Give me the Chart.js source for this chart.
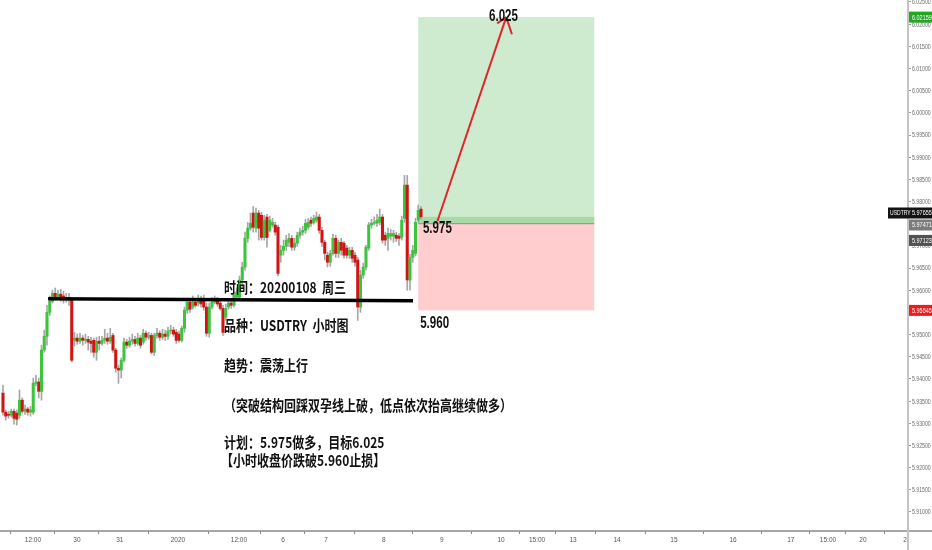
<!DOCTYPE html>
<html>
<head>
<meta charset="utf-8">
<script src="https://cdn.jsdelivr.net/npm/chart.js@4.4.1/dist/chart.umd.min.js"></script>
<style>
html,body{margin:0;padding:0;background:#fff}
canvas{display:block}
</style>
</head>
<body>
<canvas id="c" width="932" height="550"></canvas>
<script>
// USDTRY hourly candles (open / high / low / close)
const opens = [
5.9368,5.9325,5.9320,5.9318,5.9327,5.9323,5.9318,5.9352,5.9327,5.9332,
5.9325,5.9325,5.9390,5.9393,5.9372,5.9465,5.9496,5.9550,5.9575,5.9593,
5.9584,5.9591,5.9587,5.9578,5.9584,5.9578,5.9487,5.9492,5.9485,5.9492,
5.9487,5.9489,5.9485,5.9487,5.9460,5.9485,5.9480,5.9487,5.9492,5.9485,
5.9498,5.9465,5.9424,5.9420,5.9442,5.9483,5.9476,5.9485,5.9489,5.9480,
5.9492,5.9483,5.9503,5.9494,5.9498,5.9460,5.9498,5.9503,5.9494,5.9501,
5.9496,5.9508,5.9510,5.9505,5.9501,5.9487,5.9514,5.9555,5.9573,5.9562,
5.9573,5.9571,5.9578,5.9582,5.9562,5.9503,5.9562,5.9573,5.9578,5.9571,
5.9559,5.9539,5.9562,5.9571,5.9566,5.9584,5.9584,5.9623,5.9652,5.9717,
5.9740,5.9774,5.9740,5.9774,5.9769,5.9719,5.9765,5.9735,5.9747,5.9747,
5.9742,5.9679,5.9690,5.9699,5.9708,5.9717,5.9697,5.9706,5.9724,5.9731,
5.9735,5.9742,5.9758,5.9753,5.9758,5.9765,5.9735,5.9708,5.9679,5.9663,
5.9683,5.9717,5.9683,5.9708,5.9706,5.9695,5.9679,5.9690,5.9679,5.9668,
5.9562,5.9634,5.9652,5.9695,5.9747,5.9751,5.9751,5.9753,5.9765,5.9724,
5.9717,5.9722,5.9722,5.9724,5.9722,5.9719,5.9762,5.9837,5.9623,5.9674,
5.9683,5.9758,5.9783
];
const highs = [
5.9386,5.9330,5.9327,5.9332,5.9332,5.9330,5.9375,5.9357,5.9341,5.9336,
5.9338,5.9402,5.9408,5.9402,5.9476,5.9510,5.9566,5.9587,5.9600,5.9605,
5.9600,5.9602,5.9598,5.9593,5.9593,5.9582,5.9505,5.9501,5.9503,5.9498,
5.9501,5.9496,5.9494,5.9492,5.9494,5.9496,5.9496,5.9512,5.9503,5.9514,
5.9503,5.9469,5.9431,5.9447,5.9492,5.9489,5.9494,5.9501,5.9496,5.9503,
5.9498,5.9512,5.9508,5.9505,5.9503,5.9503,5.9514,5.9508,5.9512,5.9510,
5.9517,5.9521,5.9517,5.9512,5.9508,5.9519,5.9562,5.9582,5.9578,5.9587,
5.9580,5.9589,5.9587,5.9589,5.9571,5.9571,5.9584,5.9587,5.9584,5.9578,
5.9566,5.9569,5.9578,5.9580,5.9596,5.9605,5.9632,5.9663,5.9731,5.9753,
5.9774,5.9789,5.9785,5.9780,5.9776,5.9769,5.9771,5.9767,5.9762,5.9753,
5.9747,5.9701,5.9713,5.9724,5.9728,5.9724,5.9717,5.9731,5.9740,5.9744,
5.9760,5.9762,5.9765,5.9769,5.9776,5.9771,5.9742,5.9713,5.9686,5.9690,
5.9726,5.9724,5.9713,5.9717,5.9710,5.9701,5.9697,5.9697,5.9686,5.9674,
5.9645,5.9661,5.9701,5.9753,5.9760,5.9765,5.9771,5.9783,5.9771,5.9731,
5.9740,5.9737,5.9735,5.9731,5.9728,5.9767,5.9859,5.9859,5.9681,5.9701,
5.9762,5.9792,5.9789
];
const lows = [
5.9318,5.9307,5.9311,5.9314,5.9298,5.9296,5.9311,5.9323,5.9320,5.9318,
5.9316,5.9320,5.9384,5.9357,5.9352,5.9460,5.9476,5.9543,5.9571,5.9578,
5.9580,5.9575,5.9571,5.9573,5.9566,5.9438,5.9474,5.9478,5.9480,5.9476,
5.9480,5.9465,5.9460,5.9449,5.9442,5.9465,5.9476,5.9480,5.9478,5.9480,
5.9460,5.9415,5.9390,5.9402,5.9438,5.9469,5.9471,5.9478,5.9474,5.9476,
5.9469,5.9478,5.9487,5.9489,5.9456,5.9453,5.9492,5.9487,5.9489,5.9487,
5.9489,5.9501,5.9496,5.9480,5.9483,5.9483,5.9505,5.9548,5.9550,5.9557,
5.9562,5.9564,5.9562,5.9555,5.9496,5.9494,5.9557,5.9569,5.9564,5.9555,
5.9498,5.9532,5.9557,5.9559,5.9562,5.9578,5.9578,5.9607,5.9645,5.9708,
5.9735,5.9731,5.9731,5.9713,5.9713,5.9713,5.9697,5.9731,5.9742,5.9724,
5.9632,5.9663,5.9679,5.9690,5.9699,5.9690,5.9690,5.9699,5.9717,5.9724,
5.9728,5.9737,5.9744,5.9749,5.9753,5.9728,5.9699,5.9668,5.9652,5.9654,
5.9679,5.9674,5.9674,5.9679,5.9672,5.9672,5.9672,5.9663,5.9654,5.9532,
5.9550,5.9627,5.9645,5.9690,5.9740,5.9747,5.9744,5.9747,5.9706,5.9701,
5.9690,5.9713,5.9708,5.9710,5.9701,5.9713,5.9753,5.9600,5.9600,5.9663,
5.9677,5.9751,5.9760
];
const closes = [
5.9325,5.9316,5.9318,5.9327,5.9311,5.9309,5.9352,5.9327,5.9332,5.9325,
5.9330,5.9390,5.9393,5.9372,5.9465,5.9496,5.9550,5.9575,5.9593,5.9584,
5.9591,5.9582,5.9578,5.9584,5.9578,5.9442,5.9492,5.9485,5.9492,5.9487,
5.9489,5.9483,5.9480,5.9460,5.9485,5.9480,5.9487,5.9492,5.9485,5.9494,
5.9465,5.9424,5.9420,5.9442,5.9483,5.9476,5.9485,5.9489,5.9480,5.9492,
5.9476,5.9503,5.9494,5.9498,5.9460,5.9498,5.9503,5.9494,5.9501,5.9496,
5.9508,5.9510,5.9501,5.9487,5.9487,5.9514,5.9555,5.9573,5.9557,5.9573,
5.9566,5.9578,5.9569,5.9562,5.9503,5.9562,5.9573,5.9578,5.9569,5.9559,
5.9505,5.9559,5.9571,5.9566,5.9589,5.9596,5.9623,5.9652,5.9717,5.9740,
5.9751,5.9742,5.9774,5.9740,5.9719,5.9758,5.9719,5.9758,5.9753,5.9731,
5.9638,5.9690,5.9699,5.9713,5.9717,5.9697,5.9706,5.9724,5.9731,5.9735,
5.9751,5.9753,5.9751,5.9762,5.9765,5.9735,5.9708,5.9683,5.9663,5.9683,
5.9717,5.9683,5.9708,5.9690,5.9679,5.9679,5.9690,5.9672,5.9663,5.9562,
5.9634,5.9652,5.9697,5.9747,5.9751,5.9753,5.9758,5.9765,5.9713,5.9713,
5.9728,5.9728,5.9728,5.9717,5.9717,5.9758,5.9837,5.9623,5.9674,5.9690,
5.9753,5.9780,5.97655
];

// time axis: positions in bar units and their labels
const timeTickAt   = [10.9, 26.9, 42.5, 63.6, 85.8, 101.8, 117.5, 138.5, 159.6, 181.1, 194.2, 207.3, 223.3, 244.0, 265.5, 286.5, 300.0, 312.7, 328.7];
const timeTickText = ['12:00','30','31','2020','12:00','6','7','8','9','10','15:00','13','14','15','16','17','15:00','20','21'];

// long position plan
const entryPrice  = 5.975;
const targetPrice = 6.02159;
const stopPrice   = 5.95545;
const lastPrice   = 5.97655;
const tradeFromBar = 151, tradeToBar = 215;

// neckline drawn across the December highs
const necklineBars   = [16.4, 149.1];
const necklinePrices = [5.9581, 5.9576];

// projected move arrow
const arrowBars   = [158, 183];
const arrowPrices = [5.9756, targetPrice];

// extra price markers on the right scale
const markerPrices = [targetPrice, 5.97471, 5.97123, stopPrice, lastPrice];
const markerColors = ['#22a722', '#7b7b7b', '#515151', '#ee1c1c', '#131313'];

const noteLines = [
  '时间：20200108  周三',
  '品种：USDTRY  小时图',
  '趋势：震荡上行',
  '（突破结构回踩双孕线上破，低点依次抬高继续做多）',
  '计划：5.975做多，目标6.025',
  '【小时收盘价跌破5.960止损】'
];

const UP = '#3cc43c', DOWN = '#d01313';
const barIndex = opens.map((_, i) => i);

function condensedText(ctx, txt, px, py, font, sx, align) {
  ctx.save();
  ctx.font = font;
  ctx.textBaseline = 'middle';
  ctx.textAlign = align || 'left';
  ctx.translate(px, py);
  ctx.scale(sx, 1);
  ctx.fillText(txt, 0, 0);
  ctx.restore();
}

const overlay = {
  id: 'overlay',
  beforeDatasetsDraw(chart) {
    const { ctx, scales: { x, y } } = chart;
    const l = x.getPixelForValue(tradeFromBar), r = x.getPixelForValue(tradeToBar);
    const yT = y.getPixelForValue(targetPrice), yE = y.getPixelForValue(entryPrice);
    const yS = y.getPixelForValue(stopPrice), yL = y.getPixelForValue(lastPrice);
    ctx.save();
    ctx.fillStyle = '#cfebcf';
    ctx.fillRect(l, yT, r - l, yE - yT);
    ctx.fillStyle = '#ffcdcd';
    ctx.fillRect(l, yE, r - l, yS - yE);
    ctx.fillStyle = '#a8daa8';
    ctx.fillRect(l, yL, r - l, yE - yL);
    ctx.strokeStyle = '#8e8e8e';
    ctx.lineWidth = 1;
    ctx.beginPath();
    ctx.moveTo(l, yE); ctx.lineTo(r, yE);
    ctx.stroke();
    ctx.restore();
  },
  afterDatasetsDraw(chart) {
    const { ctx, scales: { x, y } } = chart;
    ctx.save();
    // neckline
    ctx.strokeStyle = '#000';
    ctx.lineWidth = 3.5;
    ctx.beginPath();
    ctx.moveTo(x.getPixelForValue(necklineBars[0]), y.getPixelForValue(necklinePrices[0]));
    ctx.lineTo(x.getPixelForValue(necklineBars[1]), y.getPixelForValue(necklinePrices[1]));
    ctx.stroke();

    // arrow toward the target
    const ax0 = x.getPixelForValue(arrowBars[0]), ay0 = y.getPixelForValue(arrowPrices[0]);
    const ax1 = x.getPixelForValue(arrowBars[1]), ay1 = y.getPixelForValue(arrowPrices[1]);
    ctx.strokeStyle = '#e3242b';
    ctx.lineWidth = 2;
    ctx.beginPath();
    ctx.moveTo(ax0, ay0); ctx.lineTo(ax1, ay1);
    const back = Math.atan2(ay0 - ay1, ax0 - ax1);
    const spread = 37 * Math.PI / 180;
    ctx.moveTo(ax1, ay1);
    ctx.lineTo(ax1 + 18 * Math.cos(back - spread), ay1 + 18 * Math.sin(back - spread));
    ctx.moveTo(ax1, ay1);
    ctx.lineTo(ax1 + 11 * Math.cos(back + spread), ay1 + 11 * Math.sin(back + spread));
    ctx.stroke();

    // price notes
    ctx.fillStyle = '#111';
    const numFont = 'bold 17px "Liberation Sans", Arial, sans-serif';
    condensedText(ctx, '6.025', x.getPixelForValue(182), y.getPixelForValue(targetPrice) - 0.5, numFont, 0.68, 'center');
    condensedText(ctx, '5.975', x.getPixelForValue(152.7), y.getPixelForValue(entryPrice) + 5, numFont, 0.68, 'left');
    condensedText(ctx, '5.960', x.getPixelForValue(151.7), y.getPixelForValue(stopPrice) + 12.5, numFont, 0.68, 'left');

    // trade notes
    const cjk = 'bold 15px "Noto Sans CJK SC", "Noto Sans CJK JP", sans-serif';
    const left = chart.chartArea.left + 224;
    const rows = [287.5, 325.5, 365, 405, 442, 460.5];
    noteLines.forEach((t, i) => condensedText(ctx, t, left + (i === 5 ? -3 : 0), rows[i], cjk, 0.8, 'left'));
    ctx.restore();
  },
  afterDraw(chart) {
    const { ctx, scales: { y }, chartArea } = chart;
    const W = chart.width, H = chart.height;
    ctx.save();
    // cover the cut-off date label under the price scale
    ctx.fillStyle = '#fff';
    ctx.fillRect(chartArea.right + 1, chartArea.bottom + 1, W - chartArea.right, H - chartArea.bottom);
    // axis lines
    ctx.strokeStyle = '#8a8a8a';
    ctx.lineWidth = 1.5;
    ctx.beginPath();
    ctx.moveTo(0, chartArea.bottom); ctx.lineTo(W, chartArea.bottom);
    ctx.stroke();
    ctx.strokeStyle = '#c4c4c4';
    ctx.lineWidth = 2;
    ctx.beginPath();
    ctx.moveTo(chartArea.right, 0); ctx.lineTo(chartArea.right, H);
    ctx.stroke();

    // price scale labels, narrowed to fit the slim scale
    ctx.fillStyle = '#6a6a6a';
    y.ticks.forEach(t => {
      const py = y.getPixelForValue(t.value);
      if (py < chartArea.top - 2 || py > chartArea.bottom) return;
      condensedText(ctx, Number(t.value).toFixed(5), chartArea.right + 4, py + 0.5, '7px "Liberation Sans", Arial, sans-serif', 0.74, 'left');
    });

    // price markers on the scale
    const boxH = 11;
    const ys = markerPrices.map(p => y.getPixelForValue(p));
    const lastIdx = markerPrices.length - 1;
    ys[lastIdx] = Math.min(ys[lastIdx], ys[1] - boxH - 1);
    const bx = chartArea.right + 1;
    markerPrices.forEach((p, i) => {
      ctx.fillStyle = markerColors[i];
      ctx.fillRect(bx, ys[i] - boxH / 2, W - bx, boxH);
      ctx.fillStyle = '#fff';
      condensedText(ctx, p.toFixed(5), bx + 3, ys[i] + 0.5, '7px "Liberation Sans", Arial, sans-serif', 0.78, 'left');
    });
    // symbol tag next to the last price
    const tagW = 20;
    ctx.fillStyle = markerColors[lastIdx];
    ctx.fillRect(bx - tagW - 1, ys[lastIdx] - boxH / 2, tagW + 1, boxH);
    ctx.fillStyle = '#fff';
    condensedText(ctx, 'USDTRY', bx - tagW + 1, ys[lastIdx] + 0.5, '7px "Liberation Sans", Arial, sans-serif', 0.72, 'left');
    ctx.restore();
  }
};

const axisFont = { family: '"Liberation Sans", Arial, sans-serif', size: 6.5 };

new Chart(document.getElementById('c'), {
  type: 'bar',
  data: {
    datasets: [
      {
        label: 'wick',
        data: barIndex.map(i => ({ x: i, y: [lows[i], highs[i]] })),
        backgroundColor: '#a6a6a6',
        barThickness: 1,
        grouped: false,
        order: 2
      },
      {
        label: 'body',
        data: barIndex.map(i => ({ x: i, y: [opens[i], closes[i]] })),
        backgroundColor: barIndex.map(i => closes[i] >= opens[i] ? UP : DOWN),
        barThickness: 2.4,
        minBarLength: 1,
        grouped: false,
        order: 1
      }
    ]
  },
  options: {
    responsive: false,
    animation: false,
    layout: { padding: 0 },
    plugins: { legend: { display: false }, tooltip: { enabled: false } },
    scales: {
      x: {
        type: 'linear',
        min: -1.09,
        max: 329.1,
        offset: false,
        grid: { display: true, drawOnChartArea: false, drawTicks: true, tickLength: 3, color: '#8a8a8a' },
        border: { display: false },
        ticks: {
          autoSkip: false,
          maxRotation: 0,
          padding: 2,
          color: '#555',
          font: axisFont,
          callback: (v, i) => timeTickText[i]
        },
        afterBuildTicks: s => { s.ticks = timeTickAt.map(v => ({ value: v })); },
        afterFit: s => { s.height = 19; s.paddingLeft = 0; s.paddingRight = 0; }
      },
      y: {
        position: 'right',
        min: 5.9057,
        max: 6.02545,
        grid: { display: true, drawOnChartArea: false, drawTicks: true, tickLength: 3, color: '#9a9a9a' },
        border: { display: false },
        ticks: { display: false },
        afterBuildTicks: s => {
          const t = [];
          for (let k = 0; k <= 23; k++) t.push({ value: Math.round((5.910 + k * 0.005) * 1000) / 1000 });
          s.ticks = t;
        },
        afterFit: s => { s.width = 24; s.paddingTop = 0; s.paddingBottom = 0; }
      }
    }
  },
  plugins: [overlay]
});
</script>
</body>
</html>
